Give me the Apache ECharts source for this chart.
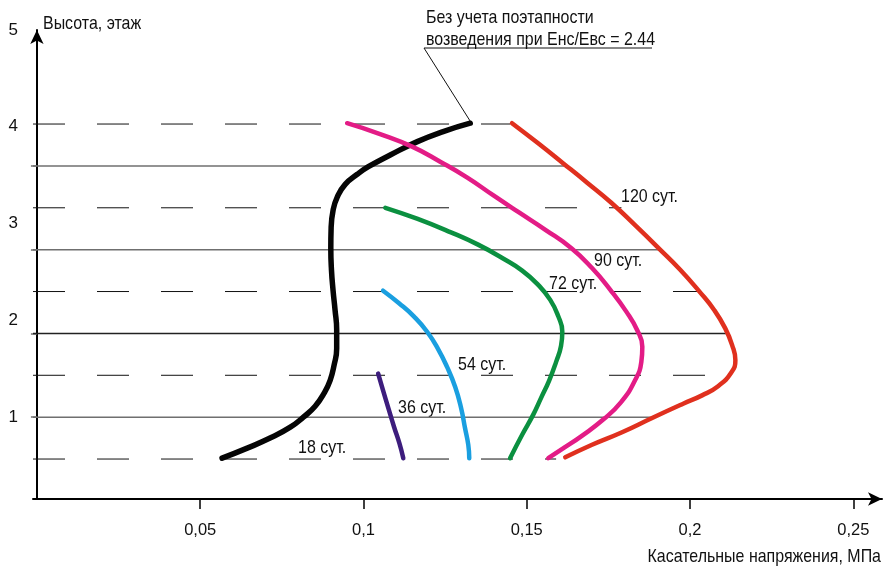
<!DOCTYPE html>
<html>
<head>
<meta charset="utf-8">
<style>
  html, body { margin: 0; padding: 0; background: #fff; }
  #chart { width: 884px; height: 570px; }
</style>
<script src="https://cdn.jsdelivr.net/npm/echarts@6/dist/echarts.min.js"></script>
</head>
<body>
<div id="chart"></div>
<script>
// Shear stress (MPa) versus height (floor) at different building ages.
const xTicks = [0.05, 0.1, 0.15, 0.2, 0.25];
const yTickLabels = [1, 2, 3, 4, 5];

// Horizontal guide lines: floor levels (solid) and mid-floor levels (dashed),
// each one running from the axis up to the 120-day curve.
const floorLevels = [1, 2, 3, 4];
const floorLineEnds = [0.188, 0.211, 0.191, 0.162];
const midLevels = [0.5, 1.5, 2.5, 3.5, 4.5];
const midLineEnds = [0.159, 0.209, 0.203, 0.179, 0.145];

// [stress, height]
const noStaging = [
  [0.0567, 0.51], [0.0644, 0.63], [0.0714, 0.75], [0.0776, 0.88], [0.0816, 1.00],
  [0.0852, 1.13], [0.0880, 1.29], [0.0898, 1.44], [0.0910, 1.62], [0.0918, 1.82],
  [0.0918, 2.04], [0.0913, 2.28], [0.0907, 2.51], [0.0902, 2.76], [0.0900, 3.02],
  [0.0901, 3.26], [0.0907, 3.47], [0.0920, 3.63], [0.0944, 3.78], [0.0981, 3.90],
  [0.1015, 3.99], [0.1082, 4.13], [0.1165, 4.29], [0.1244, 4.41], [0.1327, 4.51]
];
const days36 = [
  [0.1045, 1.52], [0.1060, 1.32], [0.1076, 1.11], [0.1094, 0.88], [0.1110, 0.69], [0.1122, 0.51]
];
const days54 = [
  [0.1060, 2.51], [0.1109, 2.36], [0.1155, 2.20], [0.1195, 2.02], [0.1229, 1.81],
  [0.1256, 1.60], [0.1281, 1.36], [0.1299, 1.11], [0.1311, 0.87], [0.1321, 0.67],
  [0.1324, 0.51]
];
const days72 = [
  [0.1067, 3.50], [0.1164, 3.37], [0.1266, 3.21], [0.1351, 3.06], [0.1425, 2.90],
  [0.1486, 2.75], [0.1535, 2.58], [0.1572, 2.40], [0.1596, 2.21], [0.1609, 2.02],
  [0.1605, 1.85], [0.1590, 1.66], [0.1569, 1.44], [0.1544, 1.23], [0.1520, 1.03],
  [0.1486, 0.79], [0.1449, 0.51]
];
const days90 = [
  [0.0950, 4.51], [0.1051, 4.38], [0.1149, 4.23], [0.1235, 4.05], [0.1318, 3.86],
  [0.1397, 3.65], [0.1474, 3.45], [0.1556, 3.24], [0.1636, 3.02], [0.1700, 2.78],
  [0.1756, 2.52], [0.1805, 2.26], [0.1838, 2.04], [0.1854, 1.84], [0.1851, 1.66],
  [0.1829, 1.42], [0.1789, 1.18], [0.1737, 0.98], [0.1670, 0.78], [0.1609, 0.62],
  [0.1566, 0.51]
];
const days120 = [
  [0.1455, 4.51], [0.1535, 4.27], [0.1612, 4.03], [0.1685, 3.80], [0.1759, 3.56],
  [0.1835, 3.28], [0.1906, 3.01], [0.1970, 2.76], [0.2031, 2.49], [0.2074, 2.28],
  [0.2108, 2.06], [0.2129, 1.86], [0.2139, 1.68], [0.2126, 1.53], [0.2086, 1.37],
  [0.2037, 1.26], [0.1979, 1.16], [0.1884, 0.99], [0.1792, 0.82], [0.1700, 0.67],
  [0.1618, 0.52]
];

const curveNames = ['18 сут.', '36 сут.', '54 сут.', '72 сут.', '90 сут.', '120 сут.'];
const noteLines = ['Без учета поэтапности', 'возведения при Енс/Евс = 2.44'];
const xTitle = 'Касательные напряжения, МПа';
const yTitle = 'Высота, этаж';

const FONT = '"Liberation Sans", Arial, sans-serif';
const TEXT = '#111';
const NARROW = 0.84;          // horizontal squeeze for the condensed lettering
const X_MIN = -0.0012, X_MAX = 0.2588;
const Y_MIN = 0.0227, Y_MAX = 5.6227;

const chart = echarts.init(document.getElementById('chart'), null, { renderer: 'canvas' });

const guideSeries = [];
floorLevels.forEach((lv, i) => {
  guideSeries.push({
    type: 'line', silent: true, symbol: 'none', z: 1, yAxisIndex: 0,
    data: [[X_MIN, lv], [floorLineEnds[i], lv]],
    lineStyle: { color: lv === 2 ? '#222' : '#6f6f6f', width: 1.5 }
  });
});
midLevels.forEach((lv, i) => {
  guideSeries.push({
    type: 'line', silent: true, symbol: 'none', z: 1, yAxisIndex: 0,
    data: [[X_MIN, lv], [midLineEnds[i], lv]],
    lineStyle: { color: '#111', width: 1, type: [32, 32] }
  });
});

function curve(name, data, color, width) {
  return {
    name, type: 'line', data, yAxisIndex: 0, symbol: 'none', smooth: 0.5, z: 3,
    lineStyle: { color, width, cap: 'round', join: 'round' }
  };
}

chart.setOption({
  animation: false,
  backgroundColor: '#fff',
  grid: { left: 33, right: 2, top: 30, bottom: 71, containLabel: false, outerBoundsMode: 'none' },
  xAxis: {
    type: 'value', min: X_MIN, max: X_MAX,
    axisLine: { show: true, symbol: ['none', 'arrow'], symbolSize: [10, 14], lineStyle: { color: '#000', width: 2 } },
    axisTick: { show: true, customValues: xTicks, length: 10, lineStyle: { color: '#000', width: 1.5 } },
    axisLabel: {
      customValues: xTicks, margin: 23, color: TEXT, fontFamily: FONT, fontSize: 16.5,
      formatter: v => String(v).replace('.', ',')
    },
    splitLine: { show: false }
  },
  yAxis: [
    {
      type: 'value', min: Y_MIN, max: Y_MAX,
      axisLine: { show: true, symbol: ['none', 'arrow'], symbolSize: [10, 14], lineStyle: { color: '#000', width: 2 } },
      axisTick: { show: true, customValues: floorLevels, length: 6, lineStyle: { color: '#6f6f6f', width: 1.5 } },
      axisLabel: { show: false },
      splitLine: { show: false }
    },
    {
      type: 'value', min: 0.1524, max: 5.0, position: 'left', offset: 0,
      axisLine: { show: false }, axisTick: { show: false }, splitLine: { show: false },
      axisLabel: { customValues: yTickLabels, margin: 15, color: TEXT, fontFamily: FONT, fontSize: 17 }
    }
  ],
  series: guideSeries.concat([
    curve('Без учета поэтапности', noStaging, '#050505', 5.5),
    curve(curveNames[1], days36, '#3d1d7d', 4.5),
    curve(curveNames[2], days54, '#1a9fe0', 4.5),
    curve(curveNames[3], days72, '#0b9040', 4.5),
    curve(curveNames[4], days90, '#e31c86', 4.5),
    curve(curveNames[5], days120, '#e0301e', 4.5)
  ])
});

// Annotations
const tip = chart.convertToPixel({ xAxisIndex: 0, yAxisIndex: 0 }, noStaging[noStaging.length - 1]);
const txt = (text, x, y, align) => ({
  type: 'text', x, y, scaleX: NARROW, silent: true,
  style: { text, fill: TEXT, font: '19px ' + FONT, textAlign: align || 'left', textVerticalAlign: 'middle' }
});
const curveLabelPos = [[298, 448], [398, 408], [458, 365], [549, 284], [594, 261], [621, 197]];

chart.setOption({
  graphic: [
    txt(yTitle, 43, 24),
    txt(xTitle, 881, 557, 'right'),
    txt(noteLines[0], 426, 18),
    txt(noteLines[1], 426, 40),
    { type: 'line', silent: true, shape: { x1: 424, y1: 48, x2: 652, y2: 48 }, style: { stroke: '#111', lineWidth: 1 } },
    { type: 'line', silent: true, shape: { x1: 424, y1: 48, x2: tip[0], y2: tip[1] - 2 }, style: { stroke: '#111', lineWidth: 1 } }
  ].concat(curveNames.map((n, i) => txt(n, curveLabelPos[i][0], curveLabelPos[i][1])))
});
</script>
</body>
</html>
